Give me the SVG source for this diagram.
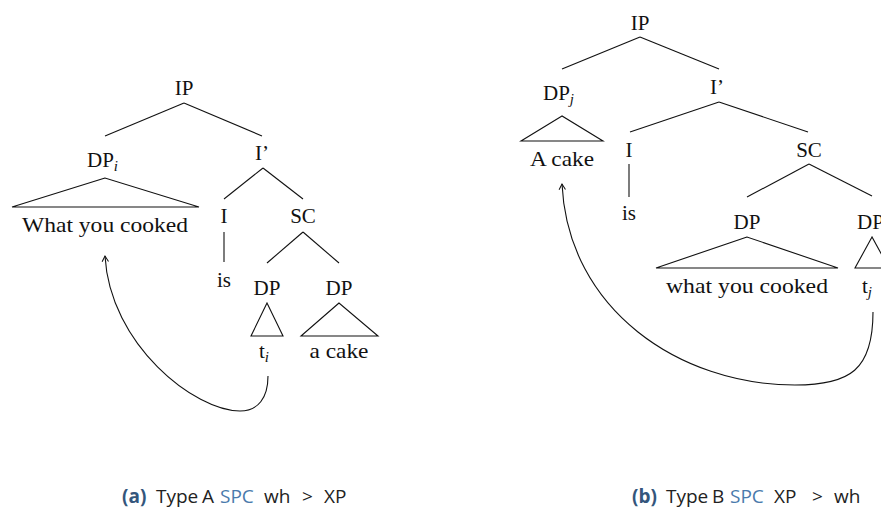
<svg xmlns="http://www.w3.org/2000/svg" width="881" height="513" viewBox="0 0 881 513">
<defs>
<style>
.t{font-family:"Liberation Serif","Times New Roman",serif;font-size:21px;fill:#111}
.m{text-anchor:middle}
.s{font-style:italic;font-size:15px}
.e{stroke:#111;stroke-width:1.1;fill:none}
.cap{font-family:"Open Sans","Noto Sans",sans-serif;font-size:19px;fill:#222}
.lab{font-weight:bold;fill:#34567c}
.spc{fill:#4a7aac}
</style>
<marker id="arr" viewBox="0 0 10 10" refX="8" refY="5" markerWidth="8" markerHeight="8" orient="auto-start-reverse" markerUnits="userSpaceOnUse">
<path d="M1,1 L8,5 L1,9" fill="none" stroke="#111" stroke-width="1.3"/>
</marker>
</defs>
<rect width="881" height="513" fill="#fff"/>

<!-- Panel (a) -->
<g id="a-IP"><text class="t m" x="184" y="95">IP</text></g>
<g id="a-DPi"><text class="t" x="87" y="167">DP<tspan class="s" dy="4">i</tspan></text>
<polygon class="e" points="105,178 12,207 199,207"/>
<text class="t m" x="105" y="232" textLength="166" lengthAdjust="spacingAndGlyphs">What you cooked</text></g>
<g id="a-Ibar"><text class="t m" x="262" y="160">I’</text></g>
<g id="a-I"><text class="t m" x="224" y="223">I</text></g>
<g id="a-is"><text class="t m" x="224" y="287">is</text></g>
<g id="a-SC"><text class="t m" x="303" y="223">SC</text></g>
<g id="a-DP1"><text class="t m" x="267" y="295">DP</text>
<polygon class="e" points="267,303 251,336 283,336"/>
<text class="t" x="259" y="358">t<tspan class="s" dy="4">i</tspan></text></g>
<g id="a-DP2"><text class="t m" x="339" y="295">DP</text>
<polygon class="e" points="339,303 301,336 378,336"/>
<text class="t m" x="339" y="358" textLength="59" lengthAdjust="spacingAndGlyphs">a cake</text></g>

<!-- Panel (b) -->
<g id="b-IP"><text class="t m" x="640" y="30">IP</text></g>
<g id="b-DPj"><text class="t" x="543" y="100">DP<tspan class="s" dy="4">j</tspan></text>
<polygon class="e" points="562,116 521,141 603,141"/>
<text class="t m" x="562" y="166" textLength="64" lengthAdjust="spacingAndGlyphs">A cake</text></g>
<g id="b-Ibar"><text class="t m" x="717" y="94">I’</text></g>
<g id="b-I"><text class="t m" x="629" y="157">I</text></g>
<g id="b-is"><text class="t m" x="629" y="220">is</text></g>
<g id="b-SC"><text class="t m" x="809" y="157">SC</text></g>
<g id="b-DP1"><text class="t m" x="747" y="229">DP</text>
<polygon class="e" points="747,237 656,268 838,268"/>
<text class="t m" x="747" y="293" textLength="162" lengthAdjust="spacingAndGlyphs">what you cooked</text></g>
<g id="b-DP2"><text class="t" x="857" y="229">DP</text>
<polygon class="e" points="872,237 855,268 889,268"/>
<text class="t" x="862" y="293">t<tspan class="s" dy="4">j</tspan></text></g>

<g id="connectors">
<line class="e" x1="184" y1="103" x2="105" y2="136"/>
<line class="e" x1="184" y1="103" x2="262" y2="136"/>
<line class="e" x1="263" y1="168" x2="224" y2="199"/>
<line class="e" x1="263" y1="168" x2="303" y2="199"/>
<line class="e" x1="224" y1="232" x2="224" y2="262"/>
<line class="e" x1="303" y1="232" x2="267" y2="263"/>
<line class="e" x1="303" y1="232" x2="339" y2="263"/>
<path class="e" stroke-width="1.5" d="M268,376 C268,398 258,411 240,411 C195,411 110,345 105,256" marker-end="url(#arr)"/>

<line class="e" x1="640" y1="37" x2="562" y2="69"/>
<line class="e" x1="640" y1="37" x2="719" y2="69"/>
<line class="e" x1="719" y1="102" x2="630" y2="132"/>
<line class="e" x1="719" y1="102" x2="808" y2="132"/>
<line class="e" x1="629" y1="164" x2="629" y2="197"/>
<line class="e" x1="809" y1="164" x2="747" y2="197"/>
<line class="e" x1="809" y1="164" x2="872" y2="196"/>
<path class="e" stroke-width="1.5" d="M873,312 C873,370 850,385 795,385 C680,385 568,310 562,184" marker-end="url(#arr)"/>
</g>

<g id="captions">
<text class="cap" y="503"><tspan class="lab" x="122">(a)</tspan><tspan x="156">Type</tspan><tspan x="202">A</tspan><tspan class="spc" x="220">SPC</tspan><tspan x="264">wh</tspan><tspan x="302">&gt;</tspan><tspan x="324">XP</tspan></text>
<text class="cap" y="503"><tspan class="lab" x="632">(b)</tspan><tspan x="666">Type</tspan><tspan x="712">B</tspan><tspan class="spc" x="730">SPC</tspan><tspan x="774">XP</tspan><tspan x="812">&gt;</tspan><tspan x="834">wh</tspan></text>
</g>
</svg>
